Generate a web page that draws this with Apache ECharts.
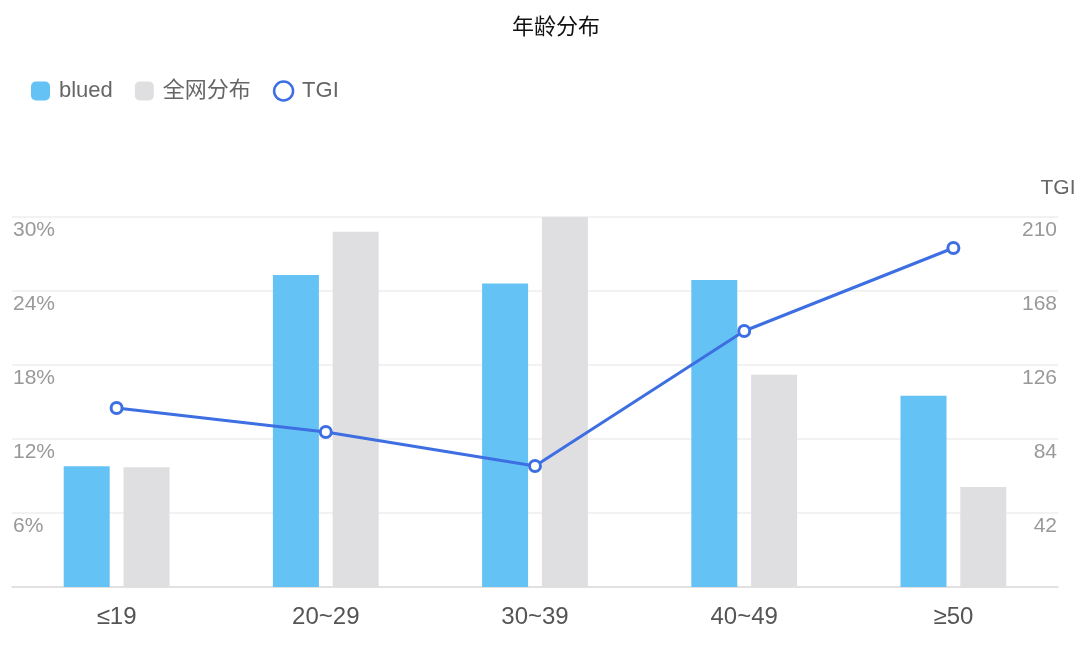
<!DOCTYPE html>
<html>
<head>
<meta charset="utf-8">
<script src="https://cdn.jsdelivr.net/npm/echarts@6/dist/echarts.min.js"></script>
<style>html,body{margin:0;padding:0;background:#fff;}#c{width:1080px;height:654px;}</style>
</head>
<body>
<div id="c"></div>
<script>
var categories = ['≤19', '20~29', '30~39', '40~49', '≥50'];
var bluedValues = [9.8, 25.3, 24.6, 24.9, 15.5];
var allNetValues = [9.7, 28.8, 30, 17.2, 8.1];
var tgiValues = [101.6, 88, 68.7, 145.3, 192.4];
var seriesNames = ['blued', '全网分布', 'TGI'];

var FONT = "'Helvetica Neue', 'Liberation Sans', 'Noto Sans CJK SC', sans-serif";
var chart = echarts.init(document.getElementById('c'));
chart.setOption({
  backgroundColor: '#fff',
  animation: false,
  textStyle: { fontFamily: FONT },
  title: {
    text: '年龄分布',
    left: 507,
    top: 12,
    textStyle: { fontSize: 22, fontWeight: 'normal', color: '#111', fontFamily: FONT }
  },
  legend: {
    left: 31,
    top: 80,
    padding: 0,
    itemWidth: 19,
    itemHeight: 19,
    itemGap: 22,
    textStyle: { fontSize: 22, color: '#666', fontFamily: FONT, padding: [0, 0, 0, 4] },
    data: [
      { name: seriesNames[0], icon: 'roundRect' },
      { name: seriesNames[1], icon: 'roundRect' },
      { name: seriesNames[2], icon: 'circle', itemStyle: { color: '#fff', borderColor: '#3d6fe2', borderWidth: 2.5 } }
    ]
  },
  grid: { left: 12, right: 22, top: 217, bottom: 67, containLabel: false },
  xAxis: {
    type: 'category',
    data: categories,
    axisLine: { lineStyle: { color: '#dcdcdc', width: 1.5 } },
    axisTick: { show: false },
    axisLabel: { fontSize: 24, color: '#555', margin: 18, fontFamily: FONT }
  },
  yAxis: [
    {
      type: 'value',
      min: 0, max: 30, interval: 6,
      axisLine: { show: false },
      axisTick: { show: false },
      splitLine: { lineStyle: { color: '#eeeeee', width: 1.5 } },
      axisLabel: {
        inside: true, margin: 1, fontSize: 21, color: '#999999',
        formatter: '{value}%', verticalAlign: 'top', lineHeight: 21, padding: [3, 0, 0, 0],
        showMinLabel: false, fontFamily: FONT
      }
    },
    {
      type: 'value',
      name: 'TGI',
      nameLocation: 'end',
      nameGap: 18,
      nameTextStyle: { fontSize: 21, color: '#666', align: 'center', fontFamily: FONT },
      min: 0, max: 210, interval: 42,
      axisLine: { show: false },
      axisTick: { show: false },
      splitLine: { show: false },
      axisLabel: {
        inside: true, margin: 1, fontSize: 21, color: '#999999',
        verticalAlign: 'top', lineHeight: 21, padding: [3, 0, 0, 0],
        showMinLabel: false, fontFamily: FONT
      }
    }
  ],
  series: [
    {
      name: seriesNames[0], type: 'bar', data: bluedValues,
      barWidth: 46, barGap: '30%',
      itemStyle: { color: '#64c3f4' }
    },
    {
      name: seriesNames[1], type: 'bar', data: allNetValues,
      barWidth: 46,
      itemStyle: { color: '#dfdfe1' }
    },
    {
      name: seriesNames[2], type: 'line', yAxisIndex: 1, data: tgiValues,
      symbol: 'circle', symbolSize: 11,
      lineStyle: { color: '#3d6fe2', width: 3 },
      itemStyle: { color: '#ffffff', borderColor: '#3d6fe2', borderWidth: 3 }
    }
  ]
});
</script>
</body>
</html>
